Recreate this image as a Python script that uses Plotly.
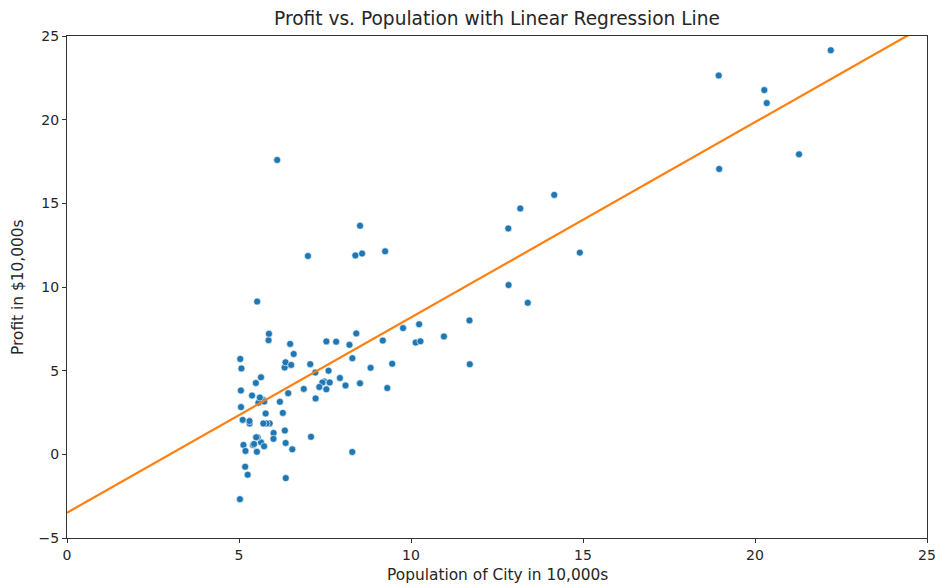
import numpy as np
import plotly.graph_objects as go

population = [6.1101, 5.5277, 8.5186, 7.0032, 5.8598, 8.3829, 7.4764, 8.5781, 6.4862, 5.0546,
              5.7107, 14.164, 5.734, 8.4084, 5.6407, 5.3794, 6.3654, 5.1301, 6.4296, 7.0708,
              6.1891, 20.27, 5.4901, 6.3261, 5.5649, 18.945, 12.828, 10.957, 13.176, 22.203,
              5.2524, 6.5894, 9.2482, 5.8918, 8.2111, 7.9334, 8.0959, 5.6063, 12.836, 6.3534,
              5.4069, 6.8825, 11.708, 5.7737, 7.8247, 7.0931, 5.0702, 5.8014, 11.7, 5.5416,
              7.5402, 5.3077, 7.4239, 7.6031, 6.3328, 6.3589, 6.2742, 5.6397, 9.3102, 9.4536,
              8.8254, 5.1793, 21.279, 14.908, 18.959, 7.2182, 8.2951, 10.236, 5.4994, 20.341,
              10.136, 7.3345, 6.0062, 7.2259, 5.0269, 6.5479, 7.5386, 5.0365, 10.274, 5.1077,
              5.7292, 5.1884, 6.3557, 9.7687, 6.5159, 8.5172, 9.1802, 6.002, 5.5204, 5.0594,
              5.7077, 7.6366, 5.8707, 5.3054, 8.2934, 13.394, 5.4369]
profit = [17.592, 9.1302, 13.662, 11.854, 6.8233, 11.886, 4.3483, 12.0, 6.5987, 3.8166,
          3.2522, 15.505, 3.1551, 7.2258, 0.71618, 3.5129, 5.3048, 0.56077, 3.6518, 5.3893,
          3.1386, 21.767, 4.263, 5.1875, 3.0825, 22.638, 13.501, 7.0467, 14.692, 24.147,
          -1.22, 5.9966, 12.134, 1.8495, 6.5426, 4.5623, 4.1164, 3.3928, 10.117, 5.4974,
          0.55657, 3.9115, 5.3854, 2.4406, 6.7318, 1.0463, 5.1337, 1.844, 8.0043, 1.0179,
          6.7504, 1.8396, 4.2885, 4.9981, 1.4233, -1.4211, 2.4756, 4.6042, 3.9624, 5.4141,
          5.1694, -0.74279, 17.929, 12.054, 17.054, 4.8852, 5.7442, 7.7754, 1.0173, 20.992,
          6.6799, 4.0259, 1.2784, 3.3411, -2.6807, 0.29678, 3.8845, 5.7014, 6.7526, 2.0576,
          0.47953, 0.20421, 0.67861, 7.5435, 5.3436, 4.2415, 6.7981, 0.92695, 0.152, 2.8214,
          1.8451, 4.2959, 7.2029, 1.9869, 0.14454, 9.0551, 0.61705]

theta = [-3.49, 1.167]
line_x = [0, 25]
line_y = [theta[0] + theta[1] * x for x in line_x]

x_ticks = [0, 5, 10, 15, 20, 25]
y_ticks = [-5, 0, 5, 10, 15, 20, 25]

FONT = "DejaVu Sans"
AX = "#333333"
TXT = "#262626"

fig = go.Figure()
fig.add_trace(go.Scatter(x=population, y=profit, mode="markers",
                         marker=dict(color="#1f77b4", size=7,
                                     line=dict(color="white", width=0.6)),
                         showlegend=False))
fig.add_trace(go.Scatter(x=line_x, y=line_y, mode="lines",
                         line=dict(color="#ff7f0e", width=2.2), showlegend=False))

axis_common = dict(showgrid=False, zeroline=False, showline=True, linecolor=AX,
                   linewidth=1, mirror=True, ticks="outside", ticklen=4,
                   tickcolor=AX, tickwidth=1, ticklabeloverflow="allow",
                   tickfont=dict(family=FONT, size=14, color=TXT))
fig.update_xaxes(range=[0, 25], tickvals=x_ticks, **axis_common)
fig.update_yaxes(range=[-5, 25], tickvals=y_ticks, **axis_common)

fig.update_layout(
    width=935, height=586,
    margin=dict(l=67, r=8, t=36, b=48, autoexpand=False),
    plot_bgcolor="white", paper_bgcolor="white",
    title=dict(text="Profit vs. Population with Linear Regression Line",
               font=dict(family=FONT, size=18.6, color=TXT),
               x=0.5, xanchor="center", xref="paper",
               y=1 - 18 / 586, yanchor="middle", yref="container"),
    annotations=[
        dict(text="Population of City in 10,000s", xref="paper", yref="paper",
             x=0.5, y=-37 / 502, xanchor="center", yanchor="middle", showarrow=False,
             font=dict(family=FONT, size=15.4, color=TXT)),
        dict(text="Profit in $10,000s", xref="paper", yref="paper",
             x=-49 / 860, y=0.5, xanchor="center", yanchor="middle", showarrow=False,
             textangle=-90, font=dict(family=FONT, size=15.4, color=TXT)),
    ],
)

fig.write_html("out.html")
